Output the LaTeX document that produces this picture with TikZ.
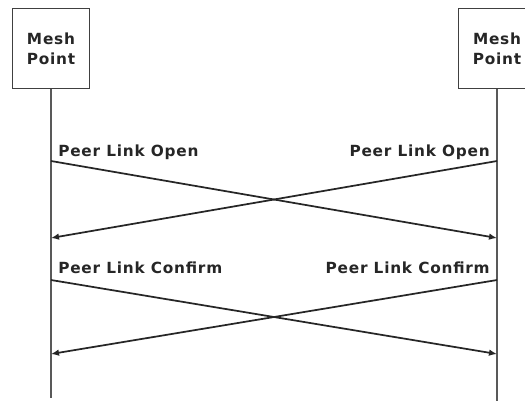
\documentclass[tikz,border=0pt]{standalone}
\usepackage{fontspec}
\setmainfont{DejaVu Sans}[BoldFont={DejaVu Sans Bold}]
\usetikzlibrary{arrows.meta}
\begin{document}
\begin{tikzpicture}[x=0.75pt,y=-0.75pt,
  font=\fontsize{11.5}{15}\selectfont\bfseries\addfontfeatures{LetterSpace=5},
  entity/.style={draw=black!75,line width=1.4pt,minimum width=77*0.75pt,minimum height=80*0.75pt,inner sep=0pt,align=center,text=black!85},
  lifeline/.style={draw=black!65,line width=1.4pt},
  msg/.style={draw=black!85,line width=1.3pt,-{Latex[length=6pt,width=5pt]}},
  lbl/.style={inner sep=0pt,text=black!85}]
\useasboundingbox (0,0) rectangle (525,401);
\node[entity] (L) at (51,48.5) {Mesh\\Point};
\node[entity] (R) at (497,48.5) {Mesh\\Point};
\coordinate (Lb) at (51,398);
\coordinate (Rb) at (497,401);
\draw[lifeline] (L.south) -- (Lb);
\draw[lifeline] (R.south) -- (Rb);
% Peer Link Open
\coordinate (L1) at (51,161);
\coordinate (R1) at (497,161);
\coordinate (L2) at (51,238);
\coordinate (R2) at (497,238);
\draw[msg] (L1) -- (R2);
\draw[msg] (R1) -- (L2);
\node[lbl,anchor=base west] (t1) at (58,156) {Peer Link Open};
\node[lbl,anchor=base east] (t2) at (490,156) {Peer Link Open};
% Peer Link Confirm
\coordinate (L3) at (51,280);
\coordinate (R3) at (497,280);
\coordinate (L4) at (51,354);
\coordinate (R4) at (497,354);
\draw[msg] (L3) -- (R4);
\draw[msg] (R3) -- (L4);
\node[lbl,anchor=base west] (t3) at (58,273) {Peer Link Confirm};
\node[lbl,anchor=base east] (t4) at (490,273) {Peer Link Confirm};
\end{tikzpicture}
\end{document}
